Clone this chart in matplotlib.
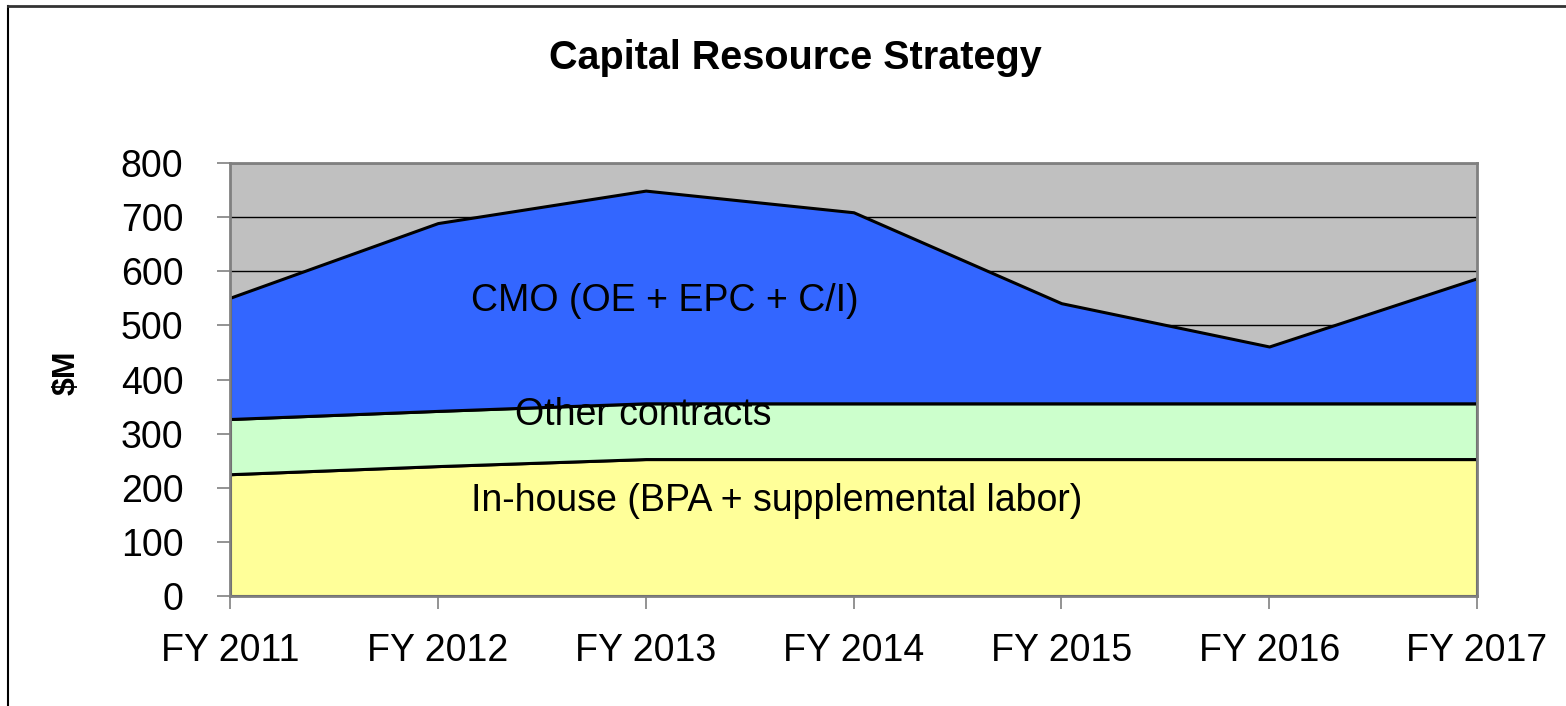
import matplotlib.pyplot as plt
import numpy as np

plt.rcParams['font.family'] = ['Liberation Sans', 'DejaVu Sans']

years = ["FY 2011", "FY 2012", "FY 2013", "FY 2014", "FY 2015", "FY 2016", "FY 2017"]
inhouse = [225, 240, 253, 253, 253, 253, 253]
other = [102, 102, 103, 103, 103, 103, 103]
cmo = [224, 347, 393, 353, 185, 105, 231]

x = np.arange(len(years))
low = np.array(inhouse)
mid = low + np.array(other)
top = mid + np.array(cmo)

fig = plt.figure(figsize=(15.66, 7.06), dpi=100)
ax = fig.add_axes([230/1566, 1 - 596/706, (1477-230)/1566, (596-163)/706])

ax.set_facecolor('#C0C0C0')
ax.set_axisbelow(True)
ax.yaxis.grid(True, color='black', linewidth=1.0)

ax.fill_between(x, 0, low, facecolor='#FFFF99', edgecolor='black', linewidth=2.2, zorder=2)
ax.fill_between(x, low, mid, facecolor='#CCFFCC', edgecolor='black', linewidth=2.2, zorder=2)
ax.fill_between(x, mid, top, facecolor='#3366FF', edgecolor='black', linewidth=2.2, zorder=2)

ax.set_xlim(0, len(years) - 1)
ax.set_ylim(0, 800)
ax.set_yticks(range(0, 801, 100))
ax.set_xticks(x)
ax.set_xticklabels(years)
ax.tick_params(axis='both', labelsize=27, color='#808080', length=9.5, width=1.2)
ax.tick_params(axis='x', pad=17)
ax.tick_params(axis='y', pad=24)

for s in ['top', 'right', 'left', 'bottom']:
    ax.spines[s].set_color('#808080')
    ax.spines[s].set_linewidth(2)

fig.text(67/1566, 1 - 373/706, '$M', fontsize=23, fontweight='bold', rotation=90,
         ha='center', va='center')

ax.text(1.16, 545, 'CMO (OE + EPC + C/I)', fontsize=27, va='center', ha='left', zorder=3)
ax.text(1.37, 334, 'Other contracts', fontsize=27, va='center', ha='left', zorder=3)
ax.text(1.16, 176, 'In-house (BPA + supplemental labor)', fontsize=27, va='center', ha='left', zorder=3)

fig.text(795/1566, 1 - 58/706, 'Capital Resource Strategy', fontsize=28.5, fontweight='bold',
         ha='center', va='center')

# outer frame
fig.add_artist(plt.Line2D([8/1566, 8/1566], [0, 1 - 6/706], color='black', linewidth=1.5,
                          transform=fig.transFigure))
fig.add_artist(plt.Line2D([8/1566, 1], [1 - 6/706, 1 - 6/706], color='#333333', linewidth=2,
                          transform=fig.transFigure))

fig.savefig('out.png', dpi=100)
